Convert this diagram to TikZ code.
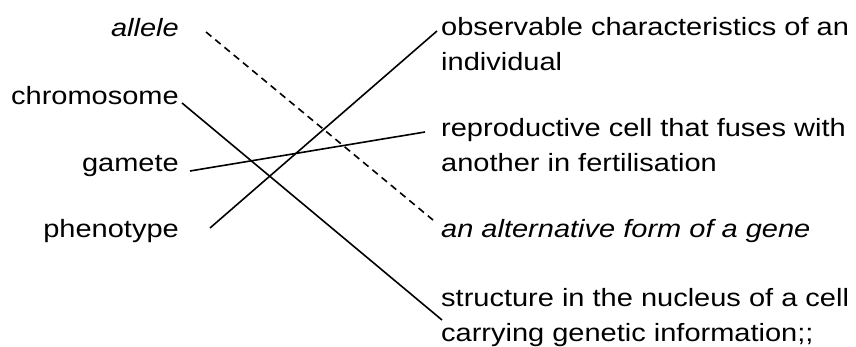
\documentclass[tikz,border=0pt]{standalone}
\usepackage{fontspec}
\setmainfont{Liberation Sans}[FakeStretch=1.16]
\usetikzlibrary{positioning}
\tikzset{
    termlabel/.style={inner sep=0pt, anchor=base east},
    deflabel/.style={inner sep=0pt, anchor=base west, align=left},
    matchline/.style={line width=1.6pt},
    keyline/.style={matchline, dash pattern=on 7pt off 5pt}
}

\begin{document}
\begin{tikzpicture}[x=1pt, y=-1pt, font=\fontsize{25}{35}\selectfont]
\useasboundingbox (0,0) rectangle (856,347);
% terms
\node[termlabel] (allele) at (179,37) {\itshape allele};
\node[termlabel] (chromo) at (179,105) {chromosome};
\node[termlabel] (gamete) at (179,172) {gamete};
\node[termlabel] (pheno) at (179,238) {phenotype};
% meanings (base = last line)
\node[deflabel] (observ) at (441,71) {observable characteristics of an\\individual};
\node[deflabel] (reprod) at (441,172) {reproductive cell that fuses with\\another in fertilisation};
\node[deflabel] (altform) at (441,238) {\itshape an alternative form of a gene};
\node[deflabel] (struct) at (441,341) {structure in the nucleus of a cell\\carrying genetic information;;};
% matching lines
\draw[keyline] ([xshift=27pt,yshift=5pt]allele.base east) -- ([xshift=-8pt,yshift=18pt]altform.base west);
\draw[matchline] ([xshift=3pt,yshift=2pt]chromo.base east) -- ([xshift=1pt,yshift=21pt]struct.base west);
\draw[matchline] ([xshift=11pt,yshift=1pt]gamete.base east) -- ([xshift=-16pt,yshift=40pt]reprod.base west);
\draw[matchline] ([xshift=31pt,yshift=10pt]pheno.base east) -- ([xshift=-4pt,yshift=40pt]observ.base west);
\end{tikzpicture}
\end{document}
